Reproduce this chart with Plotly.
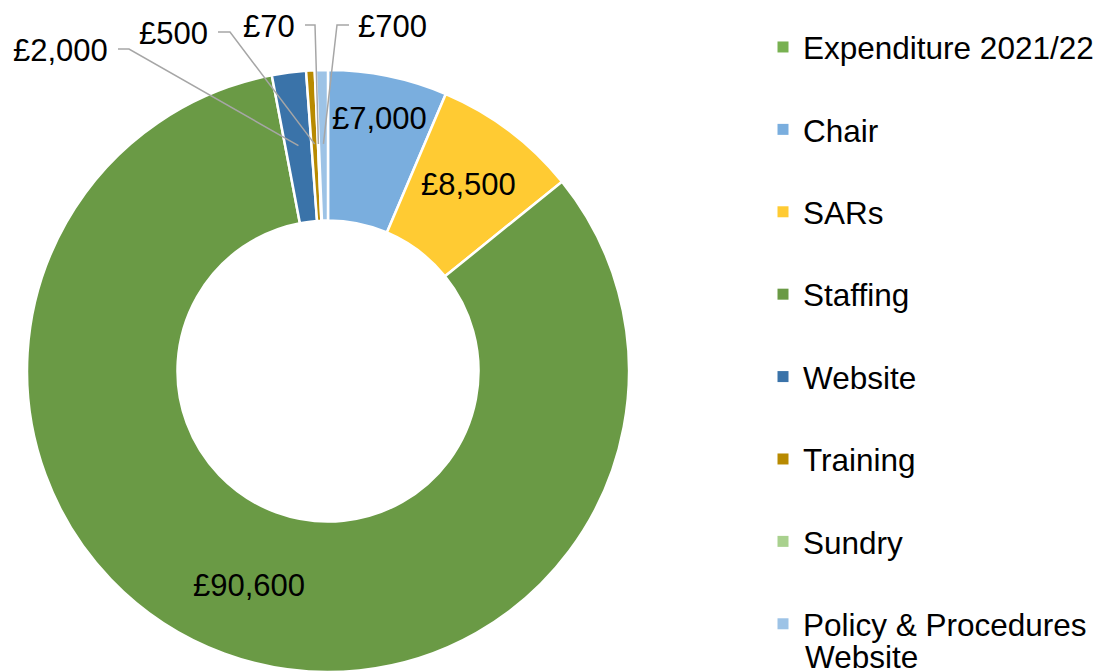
import math
import textwrap
import plotly.graph_objects as go

# ---------------- data ----------------
categories = ["Expenditure 2021/22", "Chair", "SARs", "Staffing", "Website",
              "Training", "Sundry", "Policy & Procedures Website"]
values = [0, 7000, 8500, 90600, 2000, 500, 70, 700]
colors = ["#78B151", "#7AAEDE", "#FFCB33", "#6A9A45", "#3A73A9",
          "#B88A00", "#A9D18E", "#9DC3E6"]

# ---------------- layout constants ----------------
W, H = 1106, 672
CX, CY, R = 328, 371, 301          # pie centre / radius in pixels
HOLE = 0.5
FONT = "Liberation Sans, Arial, sans-serif"
FS = 31
LEG_FS = 31.5
LEG_TEXT_X = 803                    # legend text left edge (px)
LEG_FIRST_Y = 48                    # centre of first legend entry (px)
LEG_STEP = 82.4                     # spacing of legend entries (px)
LEG_LINE = 32                       # wrapped-line spacing in legend (px)
WRAP = 20                           # legend wrap width (characters)

# label placement for the large slices (fraction of outer radius)
inside_r = {"Chair": 0.857, "SARs": 0.776, "Staffing": 0.76}
# outside labels: text centre (px, py), leader start x, elbow x, leader y
outside = {
    "Website":  dict(tx=60,  ty=51, x0=118, x1=129, ly=49),
    "Training": dict(tx=173, ty=33, x0=218, x1=230, ly=32),
    "Sundry":   dict(tx=269, ty=27, x0=305, x1=315, ly=25),
    "Policy & Procedures Website": dict(tx=392, ty=27, x0=349, x1=337, ly=25),
}
ANCHOR_R = 0.755


def px2paper(px, py):
    return px / W, 1 - py / H


def polar(theta_deg, r):
    t = math.radians(theta_deg)
    return CX + r * math.sin(t), CY - r * math.cos(t)


total = sum(values)
mids = []
cum = 0
for v in values:
    mids.append((cum + v / 2) / total * 360)
    cum += v

fig = go.Figure()
fig.add_trace(go.Pie(
    labels=categories, values=values, sort=False, direction="clockwise",
    rotation=0, hole=HOLE, textinfo="none", showlegend=False,
    marker=dict(colors=colors, line=dict(color="white", width=2.5)),
    domain=dict(x=[(CX - R) / W, (CX + R) / W], y=[1 - (CY + R) / H, 1 - (CY - R) / H]),
    hovertemplate="%{label}: £%{value:,}<extra></extra>",
))

annotations = []
shapes = []

# legend entries (one group per category to get Excel-like spacing);
# long names wrap like the original legend, continuation lines as text
for i, (c, col) in enumerate(zip(categories, colors)):
    lines = textwrap.wrap(c, WRAP)
    fig.add_trace(go.Scatter(
        x=[None], y=[None], mode="markers", name=lines[0], legendgroup=str(i),
        marker=dict(symbol="square", size=11, color=col), hoverinfo="skip"))
    for k, extra in enumerate(lines[1:], start=1):
        x, y = px2paper(LEG_TEXT_X, LEG_FIRST_Y + i * LEG_STEP + k * LEG_LINE)
        annotations.append(dict(x=x, y=y, xref="paper", yref="paper", text=extra,
                                showarrow=False, xanchor="left", yanchor="middle",
                                font=dict(family=FONT, size=LEG_FS, color="black")))

for c, v, m in zip(categories, values, mids):
    if v == 0:
        continue
    label = f"£{v:,}"
    if c in inside_r:
        px, py = polar(m, inside_r[c] * R)
        x, y = px2paper(px, py)
        annotations.append(dict(x=x, y=y, xref="paper", yref="paper", text=label,
                                showarrow=False, xanchor="center", yanchor="middle",
                                font=dict(family=FONT, size=FS, color="black")))
    elif c in outside:
        o = outside[c]
        x, y = px2paper(o["tx"], o["ty"])
        annotations.append(dict(x=x, y=y, xref="paper", yref="paper", text=label,
                                showarrow=False, xanchor="center", yanchor="middle",
                                font=dict(family=FONT, size=FS, color="black")))
        ax, ay = polar(m, ANCHOR_R * R)
        p0 = px2paper(o["x0"], o["ly"])
        p1 = px2paper(o["x1"], o["ly"])
        p2 = px2paper(ax, ay)
        path = f"M {p0[0]},{p0[1]} L {p1[0]},{p1[1]} L {p2[0]},{p2[1]}"
        shapes.append(dict(type="path", path=path, xref="paper", yref="paper",
                           line=dict(color="#A6A6A6", width=1.5), layer="above"))

item_h = LEG_FS * 1.3 + 3
fig.update_layout(
    width=W, height=H,
    margin=dict(l=0, r=0, t=0, b=0),
    paper_bgcolor="white", plot_bgcolor="white",
    xaxis=dict(visible=False), yaxis=dict(visible=False),
    annotations=annotations, shapes=shapes,
    legend=dict(x=(LEG_TEXT_X - 40) / W, xanchor="left",
                y=1 - (LEG_FIRST_Y - 28) / H, yanchor="top",
                traceorder="grouped", tracegroupgap=LEG_STEP - item_h,
                font=dict(family=FONT, size=LEG_FS, color="black"),
                bgcolor="rgba(0,0,0,0)", valign="middle"),
    font=dict(family=FONT),
)

fig.write_html("out.html", config={"displayModeBar": False},
               post_script="document.body.style.margin='0';document.body.style.overflow='hidden';")
